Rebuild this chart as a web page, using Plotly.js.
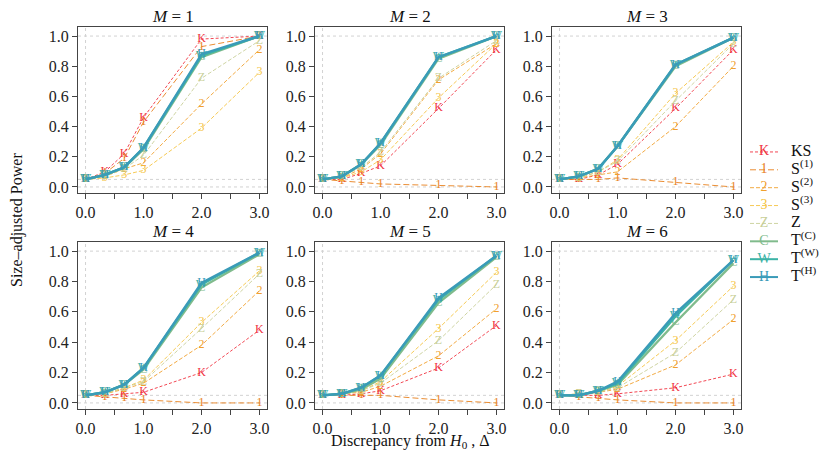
<!DOCTYPE html>
<html>
<head>
<meta charset="utf-8">
<script src="https://cdn.plot.ly/plotly-3.0.1.min.js"></script>
<style>
  html, body { margin: 0; padding: 0; background: #fff; }
  #canvas { width: 830px; height: 455px; }
</style>
</head>
<body>
<div id="canvas"></div>
<script>
// discrepancy values on the x axis
var delta = [0, 0.333, 0.667, 1, 2, 3];
var panelTitles = ["1", "2", "3", "4", "5", "6"];

// size-adjusted power, one row per M = 1..6
var powKS = [
  [0.05, 0.10, 0.22, 0.46, 0.98, 1.00],
  [0.05, 0.05, 0.09, 0.14, 0.52, 0.91],
  [0.05, 0.05, 0.08, 0.15, 0.52, 0.91],
  [0.05, 0.05, 0.06, 0.07, 0.20, 0.48],
  [0.05, 0.05, 0.06, 0.08, 0.23, 0.51],
  [0.05, 0.05, 0.05, 0.06, 0.10, 0.19]
];
var powS1 = [
  [0.05, 0.09, 0.19, 0.43, 0.93, 1.00],
  [0.05, 0.04, 0.03, 0.02, 0.01, 0.00],
  [0.05, 0.05, 0.05, 0.06, 0.03, 0.00],
  [0.05, 0.04, 0.03, 0.02, 0.00, 0.00],
  [0.05, 0.05, 0.05, 0.05, 0.02, 0.00],
  [0.05, 0.04, 0.03, 0.02, 0.00, 0.00]
];
var powS2 = [
  [0.05, 0.07, 0.12, 0.16, 0.55, 0.91],
  [0.05, 0.06, 0.12, 0.22, 0.71, 0.95],
  [0.05, 0.06, 0.08, 0.10, 0.40, 0.80],
  [0.05, 0.06, 0.09, 0.13, 0.38, 0.74],
  [0.05, 0.06, 0.07, 0.11, 0.31, 0.62],
  [0.05, 0.05, 0.07, 0.09, 0.25, 0.55]
];
var powS3 = [
  [0.05, 0.06, 0.08, 0.11, 0.39, 0.76],
  [0.05, 0.06, 0.10, 0.18, 0.59, 0.95],
  [0.05, 0.06, 0.10, 0.18, 0.62, 0.96],
  [0.05, 0.06, 0.10, 0.15, 0.53, 0.87],
  [0.05, 0.06, 0.08, 0.14, 0.49, 0.86],
  [0.05, 0.06, 0.07, 0.11, 0.41, 0.77]
];
var powZ = [
  [0.05, 0.07, 0.12, 0.21, 0.72, 0.97],
  [0.05, 0.07, 0.13, 0.23, 0.72, 0.97],
  [0.05, 0.06, 0.10, 0.17, 0.57, 0.95],
  [0.05, 0.06, 0.10, 0.14, 0.49, 0.85],
  [0.05, 0.06, 0.08, 0.13, 0.41, 0.78],
  [0.05, 0.06, 0.07, 0.10, 0.33, 0.68]
];
var powTC = [
  [0.05, 0.08, 0.13, 0.25, 0.86, 1.00],
  [0.05, 0.07, 0.15, 0.28, 0.85, 1.00],
  [0.05, 0.07, 0.12, 0.27, 0.80, 0.99],
  [0.05, 0.07, 0.12, 0.22, 0.76, 0.98],
  [0.05, 0.06, 0.09, 0.16, 0.66, 0.96],
  [0.05, 0.05, 0.08, 0.12, 0.53, 0.92]
];
var powTW = [
  [0.05, 0.08, 0.13, 0.26, 0.87, 1.00],
  [0.05, 0.07, 0.15, 0.29, 0.86, 1.00],
  [0.05, 0.07, 0.12, 0.27, 0.81, 0.99],
  [0.05, 0.07, 0.12, 0.23, 0.78, 0.99],
  [0.05, 0.06, 0.10, 0.18, 0.68, 0.97],
  [0.05, 0.05, 0.08, 0.13, 0.57, 0.94]
];
var powTH = [
  [0.05, 0.08, 0.13, 0.26, 0.88, 1.00],
  [0.05, 0.07, 0.15, 0.29, 0.86, 1.00],
  [0.05, 0.07, 0.12, 0.27, 0.81, 0.99],
  [0.05, 0.07, 0.12, 0.23, 0.79, 0.99],
  [0.05, 0.06, 0.10, 0.18, 0.69, 0.97],
  [0.05, 0.05, 0.08, 0.14, 0.59, 0.94]
];

var seriesLabels = ["KS", "S<sup>(1)</sup>", "S<sup>(2)</sup>", "S<sup>(3)</sup>", "Z",
                    "T<sup>(C)</sup>", "T<sup>(W)</sup>", "T<sup>(H)</sup>"];
var seriesChars = ["K", "1", "2", "3", "Z", "C", "W", "H"];

var seriesData = [powKS, powS1, powS2, powS3, powZ, powTC, powTW, powTH];
var colors = ['#f0323f', '#e8801c', '#f0a02e', '#f5c443', '#c8cf98', '#80bb8c', '#3cb3a6', '#3a9bb8'];
var dashes = ['3px,2px', '6px,3px', '4px,2px', '4px,2px', '4px,2px', 'solid', 'solid', 'solid'];
var widths = [0.9, 0.9, 0.9, 0.9, 0.9, 2.4, 2.4, 2.4];

var W = 830, H = 455;
var serif = '"Liberation Serif", "Times New Roman", Times, serif';
var colsPx = [[78, 267], [315, 504], [552, 741]];
var rowsPx = [[27, 193], [242, 409]];

var data = [];
var layout = {
  width: W, height: H,
  margin: {l: 0, r: 0, t: 0, b: 0},
  paper_bgcolor: '#fff', plot_bgcolor: '#fff',
  showlegend: false,
  font: {family: serif, size: 16, color: '#222'},
  shapes: [],
  annotations: []
};

for (var p = 0; p < 6; p++) {
  var n = p + 1;
  var xa = 'x' + (n === 1 ? '' : n), ya = 'y' + (n === 1 ? '' : n);
  var col = colsPx[p % 3], row = rowsPx[Math.floor(p / 3)];
  layout['xaxis' + (n === 1 ? '' : n)] = {
    domain: [col[0] / W, col[1] / W],
    anchor: ya,
    range: [-0.13, 3.13],
    tickvals: [0, 0.5, 1, 1.5, 2, 2.5, 3],
    ticktext: ['0.0', '', '1.0', '', '2.0', '', '3.0'],
    ticks: 'outside', ticklen: 5, tickcolor: '#444',
    showline: true, mirror: true, linecolor: '#444', linewidth: 1,
    showgrid: false, zeroline: false,
    tickfont: {family: serif, size: 16, color: '#222'}
  };
  layout['yaxis' + (n === 1 ? '' : n)] = {
    domain: [1 - row[1] / H, 1 - row[0] / H],
    anchor: xa,
    range: [-0.04, 1.06],
    tickvals: [0, 0.2, 0.4, 0.6, 0.8, 1.0],
    ticktext: ['0.0', '0.2', '0.4', '0.6', '0.8', '1.0'],
    ticks: 'outside', ticklen: 5, tickcolor: '#444',
    showline: true, mirror: true, linecolor: '#444', linewidth: 1,
    showgrid: false, zeroline: false,
    tickfont: {family: serif, size: 16, color: '#222'}
  };
  // reference lines
  [0, 0.05, 1].forEach(function (h) {
    layout.shapes.push({type: 'line', xref: xa + ' domain', yref: ya, x0: 0, x1: 1, y0: h, y1: h,
      line: {color: '#d2d2d2', width: 1, dash: 'dot'}, layer: 'below'});
  });
  layout.shapes.push({type: 'line', xref: xa, yref: ya + ' domain', x0: 0, x1: 0, y0: 0, y1: 1,
    line: {color: '#d2d2d2', width: 1, dash: 'dot'}, layer: 'below'});

  layout.annotations.push({
    xref: 'paper', yref: 'paper',
    x: (col[0] + col[1]) / 2 / W, y: 1 - (row[0] - 10) / H,
    xanchor: 'center', yanchor: 'middle',
    text: '<i>M</i> = ' + panelTitles[p], showarrow: false,
    font: {family: serif, size: 17, color: '#111'}
  });

  for (var s = 0; s < seriesData.length; s++) {
    data.push({
      x: delta, y: seriesData[s][p],
      xaxis: xa, yaxis: ya,
      type: 'scatter', mode: 'lines+text',
      text: delta.map(function () { return seriesChars[s]; }),
      textposition: 'middle center',
      textfont: {family: serif, size: 12, color: colors[s]},
      line: {color: colors[s], width: widths[s], dash: dashes[s]},
      hoverinfo: 'skip'
    });
  }
}

// legend drawn on its own small axis
layout.xaxis7 = {domain: [745 / W, 1], anchor: 'y7', range: [0, 85], visible: false, fixedrange: true};
layout.yaxis7 = {domain: [1 - 286 / H, 1 - 143 / H], anchor: 'x7', range: [7.5, -0.5], visible: false, fixedrange: true};
for (var s = 0; s < seriesLabels.length; s++) {
  data.push({
    x: [5, 19, 33], y: [s, s, s], xaxis: 'x7', yaxis: 'y7',
    type: 'scatter', mode: 'lines+text',
    text: ['', seriesChars[s], ''], textposition: 'middle center',
    textfont: {family: serif, size: 14, color: colors[s]},
    line: {color: colors[s], width: s >= 5 ? 2 : 0.9, dash: dashes[s]},
    hoverinfo: 'skip'
  });
  data.push({
    x: [46], y: [s], xaxis: 'x7', yaxis: 'y7',
    type: 'scatter', mode: 'text',
    text: [seriesLabels[s]], textposition: 'middle right',
    textfont: {family: serif, size: 16, color: '#111'},
    hoverinfo: 'skip'
  });
}

layout.annotations.push({
  xref: 'paper', yref: 'paper', x: 17 / W, y: 1 - 220 / H,
  xanchor: 'center', yanchor: 'middle',
  text: 'Size\u2013adjusted Power', textangle: -90, showarrow: false,
  font: {family: serif, size: 16, color: '#111'}
});
layout.annotations.push({
  xref: 'paper', yref: 'paper', x: 410 / W, y: 1 - 441 / H,
  xanchor: 'center', yanchor: 'middle',
  text: 'Discrepancy from <i>H</i><sub>0</sub> , \u0394', showarrow: false,
  font: {family: serif, size: 16, color: '#111'}
});

Plotly.newPlot("canvas", data, layout, {staticPlot: true});
</script>
</body>
</html>
